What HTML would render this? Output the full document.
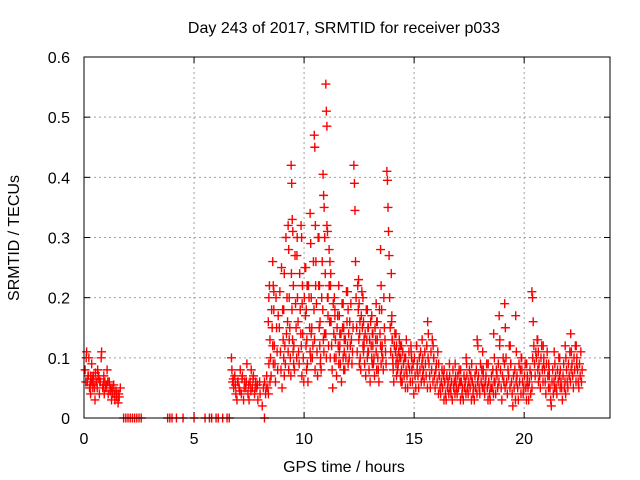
<!DOCTYPE html>
<html><head><meta charset="utf-8"><style>
body{margin:0;background:#fff;}
svg{display:block;font-family:"Liberation Sans",sans-serif;}
</style></head><body>
<svg id="chart" width="640" height="480" viewBox="0 0 640 480">
<rect width="640" height="480" fill="#fff"/>
<text x="344" y="33" font-size="16" text-anchor="middle" fill="#000">Day 243 of 2017, SRMTID for receiver p033</text>
<text x="0" y="0" font-size="16" text-anchor="middle" transform="translate(19,238) rotate(-90)">SRMTID / TECUs</text>
<text x="344" y="472" font-size="16" text-anchor="middle">GPS time / hours</text>
<g id="grid"></g>
<g id="ticks"></g>
<g id="marks"></g>
<rect x="84" y="57" width="526" height="361" fill="none" stroke="#000" stroke-width="1"/>
</svg>
<script>
const xTicks=[0,5,10,15,20];
const yTicks=[0,0.1,0.2,0.3,0.4,0.5,0.6];
const yTickLabels=["0","0.1","0.2","0.3","0.4","0.5","0.6"];
const quietTimes=[0.05,0.1,0.12,0.15,0.2,0.22,0.25,0.3,0.33,0.35,0.4,0.42,0.45,0.5,0.55,0.6,0.62,0.65,0.7,0.75,0.78,0.8,0.85,0.9,0.92,0.95,1.0,1.05,1.1,1.15,1.2,1.25,1.3,1.35,1.4,1.45,1.5,1.55,1.6,1.65,
0.08,0.18,0.28,0.38,0.48,0.58,0.68,0.88,0.98,1.08,1.18,1.28,1.38,1.48,1.58,0.3,0.52,0.72,1.02,1.22,
1.8,1.9,2.0,2.1,2.2,2.3,2.4,2.5,2.6,3.8,3.9,4.0,4.2,4.5,5.0,5.5,5.7,5.8,6.0,6.1,6.3,6.5,6.6,8.2,
6.7,6.72,6.75,6.8,6.85,6.9,6.95,7.0,7.05,7.1,7.15,7.2,7.25,7.3,7.35,7.4,7.45,7.5,7.55,7.6,7.65,7.7,7.75,7.8,7.85,7.9,8.0,8.1,8.15,8.2,8.25,8.3,8.35,8.4,8.45,
6.78,6.88,6.98,7.08,7.18,7.28,7.38,7.48,7.58,7.68,7.78,7.88,7.98,8.28,8.38];
const quietValues=[0.08,0.1,0.11,0.06,0.07,0.1,0.05,0.04,0.06,0.09,0.05,0.07,0.06,0.03,0.06,0.05,0.08,0.07,0.04,0.06,0.1,0.11,0.05,0.07,0.04,0.06,0.05,0.08,0.04,0.06,0.05,0.03,0.04,0.055,0.03,0.045,0.04,0.025,0.035,0.05,
0.06,0.07,0.055,0.065,0.05,0.06,0.065,0.055,0.05,0.06,0.045,0.05,0.04,0.035,0.04,0.07,0.075,0.06,0.055,0.045,
0,0,0,0,0,0,0,0,0,0,0,0,0,0,0,0,0,0,0,0,0,0,0,0,
0.1,0.08,0.06,0.05,0.07,0.04,0.03,0.06,0.05,0.08,0.04,0.07,0.03,0.06,0.05,0.09,0.04,0.03,0.06,0.08,0.05,0.07,0.04,0.06,0.05,0.03,0.04,0.02,0.05,0.06,0.04,0.07,0.05,0.09,0.06,
0.065,0.055,0.06,0.045,0.065,0.05,0.06,0.055,0.045,0.065,0.05,0.055,0.06,0.05,0.04];
const groupTimes=[8.5,8.7,9.0,9.2,9.4,9.55,9.8,10.0,10.2,10.4,10.6,10.8,11.0,11.1,11.3,11.5,11.7,11.9,12.1,12.4,12.6,12.8,13.0,13.2,13.4,13.6,13.9,14.1,14.3,
14.5,14.75,15.0,15.25,15.5,15.75,16.0,16.25,16.5,16.75,17.0,17.25,17.5,17.75,18.0,18.25,18.5,18.75,19.0,19.25,19.5,19.75,20.0,20.25,20.5,20.75,21.0,21.25,21.5,21.75,22.0,22.25,22.5];
const groupValues=[
[0.16,0.2,0.22,0.13,0.1,0.07,0.18,0.15,0.12,0.09,0.21],
[0.26,0.22,0.18,0.12,0.09,0.06,0.2,0.15,0.11,0.08,0.17],
[0.15,0.21,0.11,0.08,0.25,0.05,0.18,0.13,0.1,0.07,0.12],
[0.18,0.24,0.12,0.09,0.3,0.14,0.2,0.16,0.11,0.08,0.13],
[0.32,0.28,0.2,0.15,0.1,0.07,0.24,0.18,0.13,0.11,0.09],
[0.42,0.39,0.33,0.31,0.22,0.12,0.08,0.27,0.19,0.15,0.1,0.3],
[0.27,0.2,0.16,0.11,0.09,0.24,0.18,0.14,0.12,0.07,0.22],
[0.32,0.3,0.19,0.14,0.1,0.06,0.2,0.25,0.17,0.12,0.08,0.22],
[0.25,0.18,0.13,0.09,0.06,0.22,0.2,0.15,0.11,0.1,0.14],
[0.34,0.29,0.2,0.15,0.1,0.12,0.26,0.18,0.13,0.08,0.22],
[0.47,0.45,0.32,0.26,0.19,0.11,0.07,0.3,0.22,0.15,0.12,0.09],
[0.3,0.22,0.16,0.1,0.08,0.2,0.26,0.18,0.13,0.11,0.14],
[0.405,0.37,0.35,0.3,0.24,0.14,0.1,0.32,0.2,0.17,0.12,0.22],
[0.555,0.51,0.485,0.31,0.2,0.12,0.28,0.16,0.1,0.24],
[0.26,0.22,0.16,0.12,0.08,0.05,0.19,0.14,0.1,0.17,0.13],
[0.2,0.18,0.13,0.1,0.07,0.15,0.17,0.12,0.09,0.11,0.14],
[0.22,0.17,0.12,0.09,0.14,0.06,0.19,0.15,0.1,0.08,0.13],
[0.19,0.15,0.11,0.08,0.13,0.1,0.21,0.16,0.12,0.09,0.14],
[0.21,0.18,0.14,0.1,0.16,0.12,0.19,0.13,0.09,0.11,0.15],
[0.42,0.39,0.345,0.26,0.2,0.15,0.11,0.22,0.18,0.13,0.09,0.16],
[0.23,0.19,0.14,0.1,0.08,0.17,0.21,0.15,0.12,0.11,0.13],
[0.2,0.16,0.12,0.09,0.14,0.07,0.18,0.13,0.1,0.11,0.15],
[0.18,0.15,0.11,0.08,0.13,0.06,0.16,0.12,0.1,0.09,0.14],
[0.17,0.14,0.12,0.09,0.1,0.07,0.15,0.13,0.11,0.08,0.16],
[0.19,0.16,0.13,0.1,0.08,0.06,0.18,0.14,0.12,0.09,0.11],
[0.28,0.22,0.18,0.12,0.1,0.08,0.2,0.15,0.13,0.11,0.09],
[0.41,0.395,0.35,0.31,0.27,0.2,0.15,0.11,0.24,0.17,0.13,0.09],
[0.16,0.13,0.1,0.08,0.06,0.12,0.14,0.11,0.09,0.07,0.1],
[0.14,0.12,0.1,0.08,0.09,0.11,0.13,0.1,0.07,0.06,0.12],
[0.12,0.1,0.08,0.06,0.11,0.09,0.07,0.1,0.05,0.08],
[0.1,0.13,0.07,0.05,0.09,0.11,0.08,0.06,0.12,0.1],
[0.11,0.08,0.06,0.09,0.04,0.1,0.07,0.05,0.12,0.08],
[0.12,0.09,0.07,0.05,0.1,0.08,0.11,0.06,0.09,0.07],
[0.13,0.1,0.08,0.06,0.11,0.09,0.07,0.12,0.05,0.1],
[0.16,0.14,0.09,0.07,0.05,0.11,0.08,0.13,0.06,0.1],
[0.12,0.1,0.07,0.05,0.08,0.09,0.06,0.11,0.04,0.07],
[0.09,0.07,0.05,0.04,0.06,0.08,0.05,0.07,0.03,0.06],
[0.08,0.06,0.04,0.03,0.07,0.05,0.06,0.04,0.09,0.05],
[0.07,0.05,0.04,0.06,0.03,0.08,0.05,0.06,0.04,0.07],
[0.09,0.06,0.05,0.04,0.07,0.05,0.08,0.06,0.03,0.06],
[0.08,0.06,0.04,0.05,0.03,0.07,0.05,0.06,0.04,0.09],
[0.1,0.07,0.05,0.04,0.06,0.08,0.05,0.07,0.03,0.06],
[0.09,0.06,0.04,0.05,0.03,0.07,0.05,0.08,0.04,0.06],
[0.13,0.12,0.07,0.05,0.04,0.09,0.06,0.08,0.05,0.07],
[0.11,0.08,0.05,0.04,0.06,0.07,0.09,0.05,0.03,0.06],
[0.09,0.06,0.04,0.03,0.05,0.07,0.05,0.08,0.04,0.06],
[0.14,0.1,0.06,0.04,0.08,0.07,0.05,0.09,0.06,0.12],
[0.17,0.13,0.08,0.05,0.03,0.07,0.1,0.06,0.09,0.05],
[0.19,0.15,0.1,0.06,0.04,0.08,0.07,0.12,0.05,0.09],
[0.12,0.09,0.06,0.04,0.02,0.07,0.05,0.08,0.03,0.06],
[0.17,0.11,0.07,0.05,0.03,0.09,0.06,0.08,0.04,0.1],
[0.1,0.08,0.06,0.04,0.05,0.07,0.09,0.05,0.03,0.06],
[0.09,0.07,0.05,0.03,0.06,0.08,0.04,0.07,0.05,0.1],
[0.21,0.2,0.16,0.12,0.09,0.07,0.11,0.1,0.13,0.08,0.06],
[0.13,0.11,0.09,0.07,0.05,0.1,0.12,0.08,0.06,0.09],
[0.12,0.1,0.08,0.06,0.04,0.09,0.11,0.07,0.05,0.08],
[0.09,0.07,0.05,0.03,0.02,0.06,0.08,0.04,0.06,0.05],
[0.11,0.09,0.07,0.05,0.04,0.08,0.06,0.1,0.07,0.05],
[0.1,0.08,0.06,0.05,0.03,0.07,0.09,0.05,0.06,0.04],
[0.12,0.1,0.08,0.06,0.05,0.09,0.07,0.11,0.06,0.08],
[0.14,0.11,0.09,0.07,0.05,0.1,0.08,0.12,0.06,0.09],
[0.12,0.1,0.08,0.06,0.05,0.09,0.07,0.11,0.06,0.08]];

const NS='http://www.w3.org/2000/svg';
const X0=84,X1=610,Y0=418,Y1=57,XMAX=23.9,YMAX=0.6;
function xs(t){return X0+(X1-X0)*t/XMAX;}
function ys(v){return Y0-(Y0-Y1)*v/YMAX;}
const grid=document.getElementById('grid'),ticks=document.getElementById('ticks'),marks=document.getElementById('marks');
function mk(tag,attrs,parent){const e=document.createElementNS(NS,tag);for(const k in attrs)e.setAttribute(k,attrs[k]);parent.appendChild(e);return e;}
xTicks.forEach(t=>{const x=xs(t);
 if(t>0){const g=mk('line',{x1:x,y1:Y1,x2:x,y2:Y0,stroke:'#a0a0a0','stroke-dasharray':'2,3'},grid);
 
 }
 mk('line',{x1:x,y1:Y0,x2:x,y2:Y0-6,stroke:'#000'},ticks);
 mk('line',{x1:x,y1:Y1,x2:x,y2:Y1+6,stroke:'#000'},ticks);
 const l=mk('text',{x:x,y:444,'font-size':16,'text-anchor':'middle'},ticks);l.textContent=t;
 
 
});
yTicks.forEach((v,i)=>{const y=ys(v);
 if(v>0){const g=mk('line',{x1:X0,y1:y,x2:X1,y2:y,stroke:'#a0a0a0','stroke-dasharray':'2,3'},grid);
 
 }
 mk('line',{x1:X0,y1:y,x2:X0+6,y2:y,stroke:'#000'},ticks);
 mk('line',{x1:X1,y1:y,x2:X1-6,y2:y,stroke:'#000'},ticks);
 const l=mk('text',{x:70,y:y+6,'font-size':16,'text-anchor':'end'},ticks);l.textContent=yTickLabels[i];
 
 
});
let d='';
function plus(t,v){const x=xs(t),y=ys(v);d+='M'+(x-4.5)+' '+y+'h9M'+x+' '+(y-4.5)+'v9';}
quietTimes.forEach((t,i)=>plus(t,quietValues[i]));
groupTimes.forEach((t,g)=>{const vals=groupValues[g];const sp=g<29?0.025:0.03;vals.forEach((v,i)=>plus(t+(i-(vals.length-1)/2)*sp,v));});
const p=mk('path',{d:d,stroke:'#ff0000','stroke-width':1.4,fill:'none'},marks);


</script>
</body></html>
